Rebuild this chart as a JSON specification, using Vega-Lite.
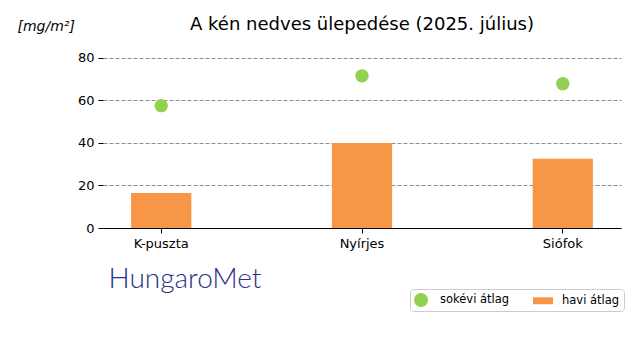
{
  "$schema": "https://vega.github.io/schema/vega-lite/v6.json",
  "autosize": {"type": "none"},
  "width": 518,
  "height": 183,
  "padding": {"left": 103, "top": 45, "right": 19, "bottom": 132},
  "background": "white",
  "config": {
    "font": "DejaVu Sans",
    "view": {"stroke": null}
  },
  "title": {
    "text": "A kén nedves ülepedése (2025. július)",
    "fontSize": 18,
    "fontWeight": "normal",
    "font": "DejaVu Sans",
    "color": "black",
    "anchor": "middle",
    "offset": -33,
    "baseline": "bottom"
  },
  "data": {
    "values": [
      {"station": "K-puszta", "value": 16.5, "series": "havi átlag"},
      {"station": "Nyírjes", "value": 40.0, "series": "havi átlag"},
      {"station": "Siófok", "value": 32.5, "series": "havi átlag"},
      {"station": "K-puszta", "value": 57.5, "series": "sokévi átlag"},
      {"station": "Nyírjes", "value": 71.5, "series": "sokévi átlag"},
      {"station": "Siófok", "value": 67.8, "series": "sokévi átlag"}
    ]
  },
  "encoding": {
    "x": {
      "field": "station",
      "type": "nominal",
      "sort": ["K-puszta", "Nyírjes", "Siófok"],
      "scale": {"paddingInner": 0.7, "paddingOuter": 0.14},
      "axis": {
        "title": "HungaroMet",
        "titleFont": "Lato",
        "titleFontWeight": 300,
        "titleFontSize": 28,
        "titleColor": "#2e2f86",
        "titleAnchor": "start",
        "titleAlign": "left",
        "titleX": 5,
        "titleY": 59,
        "titleBaseline": "alphabetic",
        "labelAngle": 0,
        "labelFontSize": 13,
        "labelFontWeight": "normal",
        "labelColor": "black",
        "labelPadding": 4,
        "tickColor": "black",
        "tickSize": 5,
        "domainColor": "black",
        "domainWidth": 1.2
      }
    },
    "y": {
      "field": "value",
      "type": "quantitative",
      "scale": {"domain": [0, 86], "nice": false},
      "axis": {
        "values": [0, 20, 40, 60, 80],
        "title": "[mg/m²]",
        "titleFontStyle": "italic",
        "titleFontWeight": "normal",
        "titleFontSize": 14,
        "titleColor": "black",
        "titleAngle": 0,
        "titleAlign": "left",
        "titleBaseline": "alphabetic",
        "titleX": -86,
        "titleY": -15,
        "labelFontSize": 13,
        "labelFontWeight": "normal",
        "labelColor": "black",
        "labelPadding": 4,
        "tickColor": "black",
        "tickSize": 5,
        "domain": false,
        "grid": true,
        "gridColor": "#808080",
        "gridDash": [4, 2],
        "gridWidth": 0.9
      }
    },
    "color": {
      "field": "series",
      "type": "nominal",
      "scale": {"domain": ["sokévi átlag", "havi átlag"], "range": ["#92d050", "#f79646"]},
      "legend": {
        "title": null,
        "orient": "none",
        "legendX": 307,
        "legendY": 244,
        "direction": "horizontal",
        "strokeColor": "#cccccc",
        "fillColor": "white",
        "cornerRadius": 3,
        "padding": 4,
        "labelFontSize": 11.5,
        "labelFontWeight": "normal",
        "labelColor": "black",
        "symbolSize": 196,
        "symbolStrokeWidth": 0,
        "columnPadding": 22,
        "labelOffset": 12
      }
    },
    "shape": {
      "field": "series",
      "type": "nominal",
      "scale": {"domain": ["sokévi átlag", "havi átlag"], "range": ["circle", "M-1.43,-0.5L1.43,-0.5L1.43,0.5L-1.43,0.5Z"]},
      "legend": {
        "title": null,
        "orient": "none",
        "legendX": 307,
        "legendY": 244,
        "direction": "horizontal",
        "strokeColor": "#cccccc",
        "fillColor": "white",
        "cornerRadius": 3,
        "padding": 4,
        "labelFontSize": 11.5,
        "labelFontWeight": "normal",
        "labelColor": "black",
        "symbolSize": 196,
        "symbolStrokeWidth": 0,
        "columnPadding": 22,
        "labelOffset": 12
      }
    }
  },
  "layer": [
    {
      "transform": [{"filter": "datum.series == 'havi átlag'"}],
      "mark": {"type": "bar", "opacity": 1}
    },
    {
      "transform": [{"filter": "datum.series == 'sokévi átlag'"}],
      "mark": {"type": "point", "filled": true, "size": 180, "opacity": 1}
    }
  ]
}
